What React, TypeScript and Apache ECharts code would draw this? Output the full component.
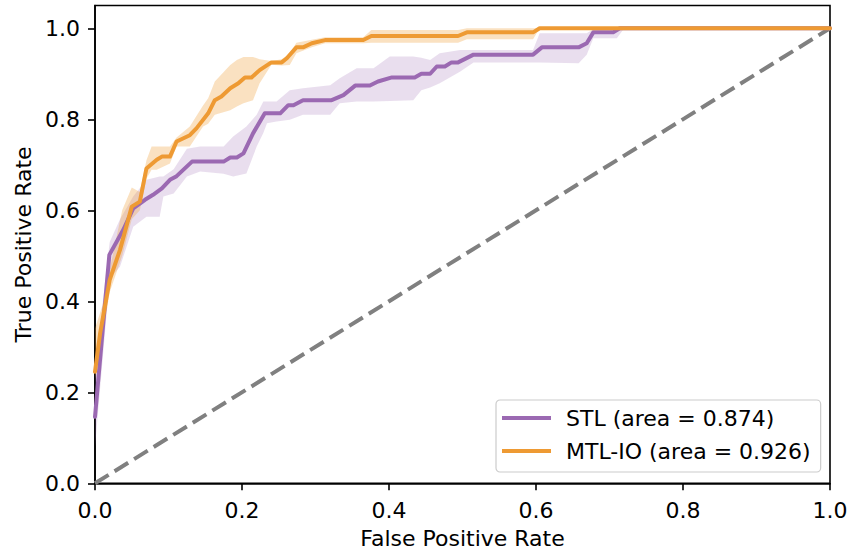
import React, { useEffect, useRef } from "react";
import * as echarts from "echarts";

const xTicks = [0, 0.2, 0.4, 0.6, 0.8, 1.0];
const yTicks = [0, 0.2, 0.4, 0.6, 0.8, 1.0];

const stlName = "STL (area = 0.874)";
const mtlName = "MTL-IO (area = 0.926)";

// [fpr, tpr]
const stlCurve: number[][] = [
  [0, 0.146], [0.0195, 0.502], [0.0385, 0.557], [0.052, 0.604], [0.068, 0.623],
  [0.079, 0.634], [0.091, 0.648], [0.102, 0.667], [0.111, 0.675], [0.132, 0.707],
  [0.175, 0.707], [0.184, 0.716], [0.193, 0.716], [0.202, 0.725], [0.215, 0.769],
  [0.231, 0.813], [0.252, 0.813], [0.263, 0.831], [0.27, 0.831], [0.283, 0.842],
  [0.322, 0.842], [0.338, 0.853], [0.354, 0.874], [0.374, 0.874], [0.385, 0.883],
  [0.404, 0.892], [0.435, 0.892], [0.444, 0.9], [0.456, 0.9], [0.465, 0.916],
  [0.476, 0.916], [0.485, 0.925], [0.494, 0.925], [0.515, 0.942], [0.596, 0.942],
  [0.608, 0.958], [0.658, 0.958], [0.669, 0.967], [0.678, 0.991], [0.705, 0.991],
  [0.714, 1.0], [1.0, 1.0],
];

const mtlCurve: number[][] = [
  [0, 0.245], [0.007, 0.33], [0.02, 0.447], [0.034, 0.513], [0.05, 0.608],
  [0.061, 0.619], [0.07, 0.692], [0.084, 0.711], [0.091, 0.718], [0.102, 0.718],
  [0.111, 0.751], [0.129, 0.765], [0.138, 0.78], [0.154, 0.813], [0.163, 0.842],
  [0.172, 0.85], [0.184, 0.868], [0.195, 0.879], [0.204, 0.892], [0.213, 0.892],
  [0.224, 0.908], [0.24, 0.925], [0.254, 0.925], [0.261, 0.934], [0.274, 0.958],
  [0.283, 0.958], [0.295, 0.967], [0.313, 0.974], [0.365, 0.974], [0.376, 0.983],
  [0.494, 0.983], [0.506, 0.991], [0.596, 0.991], [0.605, 1.0], [1.0, 1.0],
];

// [fpr, lower, upper]
const stlBand: number[][] = [
  [0, 0.08, 0.25], [0.02, 0.45, 0.53], [0.034, 0.476, 0.58], [0.052, 0.564, 0.63],
  [0.07, 0.586, 0.667], [0.088, 0.586, 0.674], [0.093, 0.63, 0.674], [0.107, 0.637, 0.69],
  [0.125, 0.674, 0.735], [0.143, 0.685, 0.74], [0.175, 0.68, 0.74], [0.188, 0.674, 0.762],
  [0.206, 0.681, 0.784], [0.22, 0.74, 0.81], [0.229, 0.77, 0.839], [0.234, 0.791, 0.839],
  [0.247, 0.795, 0.839], [0.265, 0.799, 0.864], [0.283, 0.81, 0.868], [0.32, 0.81, 0.875],
  [0.333, 0.835, 0.89], [0.356, 0.839, 0.912], [0.379, 0.839, 0.912], [0.401, 0.84, 0.938],
  [0.433, 0.842, 0.938], [0.444, 0.864, 0.935], [0.456, 0.87, 0.93], [0.469, 0.879, 0.945],
  [0.497, 0.905, 0.952], [0.515, 0.925, 0.952], [0.596, 0.925, 0.952], [0.605, 0.925, 0.989],
  [0.658, 0.923, 0.989], [0.669, 0.942, 0.989], [0.678, 0.978, 0.998], [0.71, 0.978, 1.0],
  [0.72, 1.0, 1.0],
];

const mtlBand: number[][] = [
  [0, 0.23, 0.34], [0.01, 0.32, 0.39], [0.02, 0.42, 0.47], [0.037, 0.5, 0.6],
  [0.05, 0.58, 0.65], [0.061, 0.6, 0.64], [0.07, 0.67, 0.71], [0.077, 0.689, 0.74],
  [0.084, 0.689, 0.74], [0.102, 0.703, 0.74], [0.111, 0.74, 0.76], [0.129, 0.74, 0.784],
  [0.147, 0.784, 0.83], [0.154, 0.79, 0.846], [0.163, 0.81, 0.883], [0.184, 0.82, 0.919],
  [0.193, 0.828, 0.93], [0.202, 0.835, 0.937], [0.215, 0.842, 0.937], [0.224, 0.879, 0.932],
  [0.24, 0.92, 0.928], [0.254, 0.918, 0.932], [0.265, 0.919, 0.945], [0.274, 0.945, 0.968],
  [0.295, 0.958, 0.975], [0.313, 0.967, 0.98], [0.365, 0.967, 0.98], [0.376, 0.968, 0.996],
  [0.494, 0.968, 0.996], [0.506, 0.976, 1.0], [0.596, 0.976, 1.0], [0.605, 1.0, 1.0],
];

const chance: number[][] = [[0, 0], [1, 1]];

const PURPLE = "#9b69b2";
const ORANGE = "#ee9a33";
const FONT = "DejaVu Sans";
const FS = 22;

function bandSeries(band: number[][], fill: string) {
  return {
    type: "custom",
    data: band,
    encode: { x: 0, y: [1, 2] },
    clip: true,
    silent: true,
    z: 1,
    renderItem: (params: any, api: any) => {
      if (params.dataIndex !== 0) return null;
      const upper = band.map((r) => api.coord([r[0], r[2]]));
      const lower = band.map((r) => api.coord([r[0], r[1]])).reverse();
      return {
        type: "polygon",
        shape: { points: upper.concat(lower) },
        style: { fill, stroke: null },
      };
    },
  };
}

export default function App() {
  const ref = useRef<HTMLDivElement>(null);
  useEffect(() => {
    if (!ref.current) return;
    const chart = echarts.init(ref.current, null, { renderer: "svg" });
    const fmt = (v: number) => v.toFixed(1);
    chart.setOption({
      animation: false,
      backgroundColor: "#ffffff",
      textStyle: { fontFamily: FONT },
      grid: {
        left: 95,
        right: 22,
        top: 5.5,
        bottom: 75.7,
        show: true,
        borderColor: "#000",
        borderWidth: 1.6,
        backgroundColor: "transparent",
      },
      legend: {
        orient: "vertical",
        left: 496,
        top: 400,
        data: [stlName, mtlName],
        icon: "rect",
        itemWidth: 49,
        itemHeight: 4,
        itemGap: 9,
        padding: [6, 10, 9, 6],
        borderColor: "#cccccc",
        borderWidth: 1.2,
        borderRadius: 4,
        backgroundColor: "rgba(255,255,255,0.8)",
        textStyle: {
          fontFamily: FONT,
          fontSize: FS,
          color: "#000",
          lineHeight: 24,
          padding: [0, 0, 0, 10],
        },
      },
      xAxis: {
        type: "value",
        min: 0,
        max: 1,
        interval: 0.2,
        name: "False Positive Rate",
        nameLocation: "middle",
        nameGap: 44,
        nameTextStyle: { fontFamily: FONT, fontSize: FS, color: "#000" },
        axisLine: { show: true, lineStyle: { color: "#000", width: 1.6 } },
        axisTick: { show: true, length: 7, lineStyle: { color: "#000", width: 1.6 } },
        axisLabel: { fontFamily: FONT, fontSize: FS, color: "#000", margin: 16, formatter: fmt, customValues: xTicks },
        splitLine: { show: false },
      },
      yAxis: {
        type: "value",
        min: 0,
        max: 1.05,
        interval: 0.2,
        name: "True Positive Rate",
        nameLocation: "middle",
        nameGap: 60,
        nameTextStyle: { fontFamily: FONT, fontSize: FS, color: "#000" },
        axisLine: { show: true, lineStyle: { color: "#000", width: 1.6 } },
        axisTick: { show: true, length: 7, lineStyle: { color: "#000", width: 1.6 }, customValues: yTicks },
        axisLabel: { fontFamily: FONT, fontSize: FS, color: "#000", margin: 15, formatter: fmt, customValues: yTicks },
        splitLine: { show: false },
      },
      series: [
        {
          type: "line",
          data: chance,
          showSymbol: false,
          silent: true,
          z: 2,
          lineStyle: { color: "#808080", width: 4, type: [16, 7] },
        },
        bandSeries(stlBand, "rgba(155,105,178,0.22)"),
        bandSeries(mtlBand, "rgba(238,154,51,0.3)"),
        {
          name: stlName,
          type: "line",
          data: stlCurve,
          showSymbol: false,
          z: 3,
          color: PURPLE,
          lineStyle: { color: PURPLE, width: 4, join: "round", cap: "round" },
        },
        {
          name: mtlName,
          type: "line",
          data: mtlCurve,
          showSymbol: false,
          z: 4,
          color: ORANGE,
          lineStyle: { color: ORANGE, width: 4, join: "round", cap: "round" },
        },
      ],
    });
    return () => chart.dispose();
  }, []);
  return (
    <div
      ref={ref}
      style={{ position: "fixed", left: 0, top: 0, width: 852, height: 559, background: "#fff" }}
    />
  );
}
